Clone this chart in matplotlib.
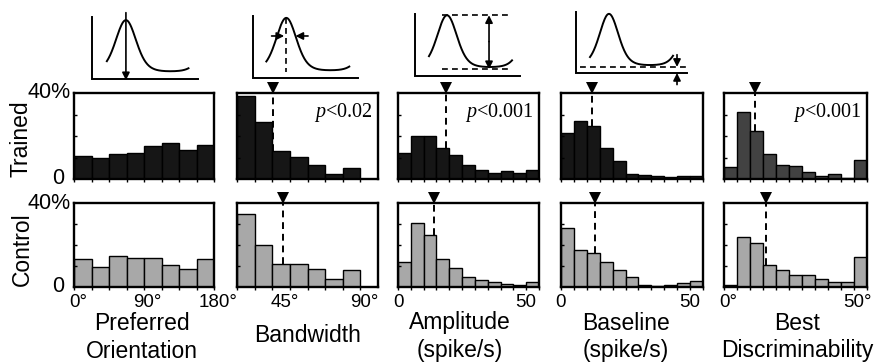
import numpy as np
import matplotlib
matplotlib.use('Agg')
import matplotlib.pyplot as plt
import matplotlib.transforms as mtransforms

plt.rcParams['font.family'] = ['Liberation Sans', 'DejaVu Sans']
plt.rcParams['mathtext.fontset'] = 'custom'
plt.rcParams['mathtext.it'] = 'Liberation Serif:italic'
plt.rcParams['mathtext.rm'] = 'Liberation Serif'

# ---------------- data (percent of cells per bin) ----------------
orient_edges = np.arange(0, 181, 22.5)
orient_trained = [10.5, 9.7, 11.5, 12.2, 15.4, 16.6, 13.4, 15.7]
orient_control = [13.2, 9.6, 14.7, 14.0, 13.7, 10.4, 8.8, 13.2]

bw_edges = np.arange(20, 91, 10)
bw_trained = [38.4, 26.5, 12.9, 10.4, 6.7, 2.2, 5.2]
bw_control = [34.9, 20.0, 10.9, 10.9, 8.6, 4.0, 8.0]
bw_medians = [40.6, 45.9]

amp_edges = np.arange(0, 56, 5)
amp_trained = [12.2, 20.1, 20.1, 14.4, 11.3, 6.3, 4.4, 2.8, 3.6, 2.8, 4.4]
amp_control = [12.1, 30.4, 24.6, 13.3, 8.9, 5.0, 3.1, 2.2, 1.3, 0.9, 2.2]
amp_medians = [18.7, 14.2]

base_edges = np.arange(0, 56, 5)
base_trained = [21.3, 27.0, 24.6, 14.2, 8.5, 2.5, 1.7, 1.4, 0.7, 1.3, 1.3]
base_control = [28.1, 17.5, 16.2, 11.9, 7.9, 4.8, 1.1, 0.3, 1.1, 1.7, 2.7]
base_medians = [12.1, 13.3]

disc_edges = np.arange(0, 56, 5)
disc_trained = [5.8, 31.1, 22.2, 11.8, 6.5, 6.0, 3.1, 1.5, 2.2, 0.3, 8.9]
disc_control = [1.1, 23.9, 21.1, 10.6, 8.3, 5.5, 5.5, 3.9, 2.5, 2.5, 14.5]
disc_medians = [11.9, 16.0]

p_values = [None, '$p$<0.02', '$p$<0.001', None, '$p$<0.001']
row_labels = ['Trained', 'Control']
x_labels = [['Preferred', 'Orientation'], ['Bandwidth'], ['Amplitude', '(spike/s)'],
            ['Baseline', '(spike/s)'], ['Best', 'Discriminability']]
x_ticks = [[0, 90, 180], [45, 90], [0, 50], [0, 50], [0, 50]]
x_ticklabels = [['0°', '90°', '180°'], ['45°', '90°'], ['0', '50'], ['0', '50'], ['0°', '50°']]
x_lims = [(0, 180), (20, 100), (0, 55), (0, 55), (0, 55)]

panels = [
    (orient_edges, orient_trained, orient_control, None),
    (bw_edges, bw_trained, bw_control, bw_medians),
    (amp_edges, amp_trained, amp_control, amp_medians),
    (base_edges, base_trained, base_control, base_medians),
    (disc_edges, disc_trained, disc_control, disc_medians),
]

# ---------------- layout ----------------
W, H = 876, 362
fig = plt.figure(figsize=(W / 100, H / 100), dpi=100)


def box(x0, x1, ytop, ybot):
    return [x0 / W, 1 - ybot / H, (x1 - x0) / W, (ybot - ytop) / H]


cols = [(74, 214), (237, 378), (398, 539), (561, 703), (724, 867)]
rows = [(93, 179), (203, 287)]
trained_colors = ['#161616', '#161616', '#161616', '#161616', '#424242']
control_color = '#a8a8a8'
tick_fs = 13.5

for c, (edges, tr, co, meds) in enumerate(panels):
    for r in range(2):
        ax = fig.add_axes(box(cols[c][0], cols[c][1], rows[r][0], rows[r][1]))
        vals = tr if r == 0 else co
        color = trained_colors[c] if r == 0 else control_color
        ax.bar(edges[:-1], vals, width=np.diff(edges), align='edge',
               color=color, edgecolor='black', linewidth=1.0)
        ax.set_xlim(*x_lims[c])
        ax.set_ylim(0, 40)
        for s in ax.spines.values():
            s.set_linewidth(1.7)
        ax.set_yticks([10, 20, 30])
        ax.set_yticklabels([])
        ax.tick_params(axis='y', direction='in', length=2.5, width=1.0)
        ax.set_xticks(edges, minor=True)
        ax.tick_params(axis='x', which='minor', direction='out', length=2.5, width=1.0)
        ax.set_xticks([])
        if meds is not None:
            m = meds[r]
            idx = np.searchsorted(edges, m) - 1
            ax.plot([m, m], [vals[idx], 40], color='black', lw=1.4,
                    linestyle=(0, (3.5, 2.5)), solid_capstyle='butt')
            trans = mtransforms.blended_transform_factory(ax.transData, ax.transAxes) + \
                mtransforms.ScaledTranslation(0, 5 / 100, fig.dpi_scale_trans)
            ax.plot([m], [1.0], transform=trans, marker='v', ms=9, color='black',
                    mec='black', mew=0, clip_on=False)
        if r == 0 and p_values[c]:
            ax.text(0.96, 0.77, p_values[c], transform=ax.transAxes, ha='right',
                    va='center', fontsize=14.5, family='Liberation Serif')
        if r == 1:
            # tick labels: digits centred on the tick
            for xv, lab in zip(x_ticks[c], x_ticklabels[c]):
                off = 0.2 * tick_fs / 72 if lab.endswith('°') else 0
                tr_ = mtransforms.blended_transform_factory(ax.transData, ax.transAxes) + \
                    mtransforms.ScaledTranslation(off, -0.155, fig.dpi_scale_trans)
                ax.text(xv, 0.0, lab, transform=tr_, ha='center', va='center', fontsize=tick_fs)
        if c == 0:
            ax.text(-3 / 140, 1.0, '40%', transform=ax.transAxes, ha='right', va='center', fontsize=15.5)
            ax.text(-10 / 140, 0.0, '0', transform=ax.transAxes, ha='right', va='center', fontsize=15.5)

# row labels
fig.text(21 / W, 1 - 139 / H, row_labels[0], rotation=90, ha='center', va='center', fontsize=16.5)
fig.text(22 / W, 1 - 249 / H, row_labels[1], rotation=90, ha='center', va='center', fontsize=16.5)

# x labels
label_fs = 16.5
label_x = [142, 308, 460, 626, 797]
for c, labs in enumerate(x_labels):
    if len(labs) == 2:
        fig.text(label_x[c] / W, 1 - 323 / H, labs[0], ha='center', va='center', fontsize=label_fs)
        fig.text(label_x[c] / W, 1 - 351 / H, labs[1], ha='center', va='center', fontsize=label_fs)
    else:
        fig.text(label_x[c] / W, 1 - 335 / H, labs[0], ha='center', va='center', fontsize=label_fs)

# ---------------- schematic tuning-curve insets ----------------
# (left px, right px, top px, bottom px, peak x, period, baseline, amplitude, start x, end x)
insets = [
    (92, 198, 17, 79, 0.32, 0.84, 0.11, 0.84, 0.14, 0.91),
    (253, 358, 16, 78, 0.317, 0.84, 0.11, 0.86, 0.127, 0.917),
    (415, 520, 14, 76, 0.305, 0.82, 0.13, 0.85, 0.133, 0.924),
    (576, 687, 12, 73, 0.297, 0.74, 0.115, 0.855, 0.126, 0.874),
]
sharp = 2.0


def tuning(x, x0, period, base, amp):
    return base + amp * np.exp(sharp * (np.cos(2 * np.pi * (x - x0) / period) - 1))


arrow = dict(arrowstyle='-|>', mutation_scale=11, lw=1.2, color='black', shrinkA=0, shrinkB=0)
for i, (l, rgt, t, b, x0, per, base, amp, xs, xe) in enumerate(insets):
    ia = fig.add_axes(box(l, rgt, t, b))
    ia.set_xlim(0, 1)
    ia.set_ylim(0, 1)
    ia.axis('off')
    # L-shaped axes
    ia.plot([0, 0, 1], [1, 0, 0], color='black', lw=1.4, clip_on=False, solid_joinstyle='miter')
    xx = np.linspace(xs, xe, 200)
    ia.plot(xx, tuning(xx, x0, per, base, amp), color='black', lw=1.4)
    peak = base + amp
    if i == 0:
        ia.annotate('', xy=(x0, -0.02), xytext=(x0, 1.07), arrowprops=arrow,
                    annotation_clip=False)
    elif i == 1:
        ia.plot([x0, x0], [peak, base - 0.02], color='black', lw=1.2, linestyle=(0, (3.5, 2.5)))
        half = base + 0.66 * amp
        xr = np.linspace(x0, x0 + per / 2, 400)
        flank = xr[np.argmin(np.abs(tuning(xr, x0, per, base, amp) - half))]
        ia.annotate('', xy=(x0 - 0.02, half), xytext=(x0 - 0.14, half), arrowprops=arrow)
        ia.annotate('', xy=(flank, half), xytext=(flank + 0.12, half), arrowprops=arrow)
    elif i == 2:
        ia.plot([x0 - 0.05, 0.886], [peak, peak], color='black', lw=1.2, linestyle=(0, (3.5, 2.5)))
        ia.plot([x0 - 0.05, 0.886], [base - 0.02, base - 0.02], color='black', lw=1.2,
                linestyle=(0, (3.5, 2.5)))
        xa = 0.705
        ia.annotate('', xy=(xa, peak), xytext=(xa, 0.5 * (peak + base)), arrowprops=arrow)
        ia.annotate('', xy=(xa, base - 0.02), xytext=(xa, 0.5 * (peak + base)), arrowprops=arrow)
    else:
        ia.plot([0.036, 1.0], [base - 0.015, base - 0.015], color='black', lw=1.2,
                linestyle=(0, (3.5, 2.5)))
        xa = 0.91
        ia.annotate('', xy=(xa, base - 0.015), xytext=(xa, 0.30), arrowprops=arrow)
        ia.annotate('', xy=(xa, 0.0), xytext=(xa, -0.19), arrowprops=arrow, annotation_clip=False)

fig.savefig('out.png', dpi=100)
